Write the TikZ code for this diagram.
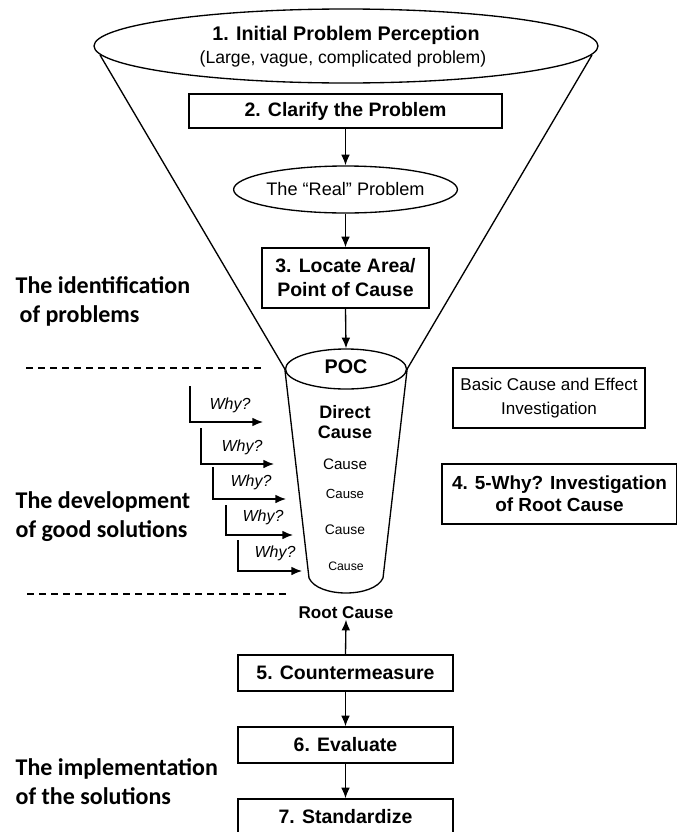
\documentclass[tikz,border=0pt]{standalone}
\usepackage{fontspec}
\setmainfont{Liberation Sans}
\newfontfamily\phasefont{Carlito}
\usetikzlibrary{arrows.meta,shapes.geometric}

\begin{document}
\begin{tikzpicture}[x=0.75pt,y=-0.75pt,line width=1pt,
  box/.style={draw,rectangle,inner sep=0pt,align=center,
    font=\fontsize{14.6}{18}\selectfont\bfseries},
  oval/.style={draw,ellipse,inner sep=0pt},
  plain/.style={inner sep=0pt,align=center},
  arr/.style={-{Latex[length=8pt,width=6.5pt]}},
  phase/.style={inner sep=0pt,anchor=west,align=left,
    font=\phasefont\fontsize{18}{21.75}\selectfont\bfseries},
  why/.style={inner sep=0pt,font=\fontsize{12}{14}\selectfont\itshape},
  divider/.style={dash pattern=on 5.5pt off 3.5pt,line width=1pt}]
\useasboundingbox (0,0) rectangle (676,832);

% --- funnel mouth and its two sides
\node[oval,minimum width=378pt,minimum height=55.5pt] (mouth) at (346,46) {};
\node[plain,font=\fontsize{14.8}{18}\selectfont\bfseries] (t1) at (346,35) {1. Initial Problem Perception};
\node[plain,font=\fontsize{13.2}{16}\selectfont] (t1b) at (343,59) {(Large, vague, complicated problem)};

\node[oval,minimum width=90.75pt,minimum height=30pt] (poc) at (346,369) {};
\node[plain,font=\fontsize{14.8}{18}\selectfont\bfseries] (poctext) at (346,367) {POC};

\coordinate (fl) at (100,55);
\coordinate (fr) at (592,55);
\draw (fl) -- (poc.west);
\draw (fr) -- (poc.east);

% --- cylinder of causes
\coordinate (cbl) at (309,578);
\coordinate (cbr) at (383,578);
\draw (poc.west) -- (cbl) .. controls (318,598) and (374,598) .. (cbr) -- (poc.east);

\node[plain,font=\fontsize{13.5}{16}\selectfont\bfseries] (direct) at (345,422) {Direct\\[-1pt]Cause};
\node[plain,font=\fontsize{11.4}{14}\selectfont] (c1) at (345,464) {Cause};
\node[plain,font=\fontsize{9.9}{12}\selectfont] (c2) at (345,494) {Cause};
\node[plain,font=\fontsize{10.4}{12}\selectfont] (c3) at (345,530) {Cause};
\node[plain,font=\fontsize{9.2}{12}\selectfont] (c4) at (346,566) {Cause};

% --- steps inside the funnel
\node[box,minimum width=234.75pt,minimum height=25.5pt] (clarify) at (345.5,111) {2. Clarify the Problem};
\node[oval,minimum width=162.75pt,minimum height=35.25pt,font=\fontsize{13.6}{16}\selectfont] (real) at (345.5,189.5) {The “Real” Problem};
\node[box,minimum width=125.25pt,minimum height=45pt] (locate) at (345.5,278) {3. Locate Area/\\Point of Cause};

\draw[arr] (clarify.south) -- (real.north);
\draw[arr] (real.south) -- (locate.north);
\draw[arr] (locate.south) -- (poc.north);

% --- side notes
\node[draw,rectangle,inner sep=0pt,align=center,minimum width=144pt,minimum height=45pt,
  font=\fontsize{12.8}{18}\selectfont] (basic) at (549,398) {Basic Cause and Effect\\Investigation};
\node[box,minimum width=176.25pt,minimum height=45pt,font=\fontsize{14.2}{16.5}\selectfont\bfseries] (fivewhy) at (559.5,494) {4. 5-Why? Investigation\\of Root Cause};

% --- the five "Why?" steps
\coordinate (w1a) at (190,386); \coordinate (w1b) at (263,422);
\coordinate (w2a) at (201,428); \coordinate (w2b) at (274,464);
\coordinate (w3a) at (213,467); \coordinate (w3b) at (286,499);
\coordinate (w4a) at (226,505); \coordinate (w4b) at (293,535);
\coordinate (w5a) at (238,540); \coordinate (w5b) at (302,571);
\foreach \i in {1,...,5} {\draw[arr] (w\i a) |- (w\i b);}
\node[why] (why1) at (230,405) {Why?};
\node[why] (why2) at (242,447) {Why?};
\node[why] (why3) at (251,482) {Why?};
\node[why] (why4) at (263,517) {Why?};
\node[why] (why5) at (275,553) {Why?};

% --- phase dividers
\coordinate (d1a) at (26,368); \coordinate (d1b) at (262,368);
\coordinate (d2a) at (27,594); \coordinate (d2b) at (287,594);
\draw[divider] (d1a) -- (d1b);
\draw[divider] (d2a) -- (d2b);

% --- phase labels
\node[phase] (ph1) at (15,301) {The identification\\\hspace{3pt}of problems};
\node[phase] (ph2) at (15,517) {The development\\of good solutions};
\node[phase] (ph3) at (15,782) {The implementation\\of the solutions};

% --- from root cause to standard
\node[plain,font=\fontsize{12.8}{16}\selectfont\bfseries] (root) at (346,613) {Root Cause};
\node[box,minimum width=161.25pt,minimum height=27pt] (counter) at (345.5,673) {5. Countermeasure};
\node[box,minimum width=161.25pt,minimum height=27pt] (evaluate) at (345.5,745) {6. Evaluate};
\node[box,minimum width=161.25pt,minimum height=27pt] (standard) at (345.5,817) {7. Standardize};

\draw[arr] (counter.north) -- (root.south);
\draw[arr] (counter.south) -- (evaluate.north);
\draw[arr] (evaluate.south) -- (standard.north);
\end{tikzpicture}
\end{document}
